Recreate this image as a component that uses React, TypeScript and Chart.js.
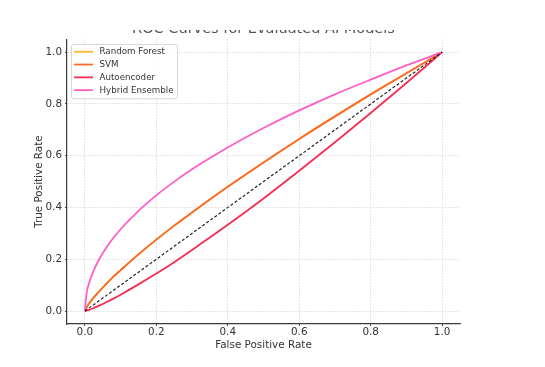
import React, { useEffect, useRef } from 'react';
import { Chart, registerables } from 'chart.js';

Chart.register(...registerables);

const chartTitle = 'ROC Curves for Evaluated AI Models';
const xAxisLabel = 'False Positive Rate';
const yAxisLabel = 'True Positive Rate';

const fprPoints = [0, 0.005, 0.01, 0.02, 0.04, 0.06, 0.08, 0.1, 0.15, 0.2, 0.25, 0.3, 0.4, 0.5, 0.6, 0.7, 0.8, 0.9, 1.0];
const randomForestTpr = [0, 0.014, 0.025, 0.044, 0.076, 0.105, 0.133, 0.158, 0.219, 0.276, 0.33, 0.381, 0.48, 0.574, 0.665, 0.752, 0.837, 0.919, 1.0];
const svmTpr = [0, 0.014, 0.025, 0.044, 0.076, 0.105, 0.133, 0.158, 0.219, 0.276, 0.33, 0.381, 0.48, 0.574, 0.665, 0.752, 0.837, 0.919, 1.0];
const autoencoderTpr = [0, 0.002, 0.004, 0.009, 0.021, 0.034, 0.048, 0.063, 0.103, 0.145, 0.189, 0.236, 0.333, 0.435, 0.542, 0.652, 0.765, 0.881, 1.0];
const hybridTpr = [0, 0.071, 0.1, 0.141, 0.2, 0.245, 0.283, 0.316, 0.387, 0.447, 0.5, 0.548, 0.632, 0.707, 0.775, 0.837, 0.894, 0.949, 1.0];
const chanceX = [0, 1];
const chanceY = [0, 1];
const axisTicks = [0, 0.2, 0.4, 0.6, 0.8, 1.0];

const seriesNames = ['Random Forest', 'SVM', 'Autoencoder', 'Hybrid Ensemble'];
const seriesColors = ['#ffb52e', '#fb6a2c', '#f72d55', '#ff5ec6'];
const seriesValues = [randomForestTpr, svmTpr, autoencoderTpr, hybridTpr];

const FONT = '"DejaVu Sans", sans-serif';
const TEXT = '#333333';

const overlayPlugin = {
  id: 'overlay',
  afterDraw(chart: any) {
    const { ctx, chartArea } = chart;
    ctx.save();
    // title: only its lower edge falls inside the canvas, as in the cropped reference
    ctx.font = `14.5px ${FONT}`;
    ctx.fillStyle = '#555555';
    ctx.textAlign = 'center';
    ctx.textBaseline = 'alphabetic';
    ctx.fillText(chartTitle, (chartArea.left + chartArea.right) / 2, 2.6);

    const bx = chartArea.left + 4;
    const by = chartArea.top + 4.7;
    const bw = 106;
    const bh = 54.3;
    ctx.beginPath();
    ctx.roundRect(bx + 0.5, by + 0.5, bw, bh, 2.5);
    ctx.fillStyle = 'rgba(255,255,255,0.85)';
    ctx.fill();
    ctx.strokeStyle = '#d6d6d6';
    ctx.lineWidth = 1;
    ctx.stroke();
    ctx.font = `8.7px ${FONT}`;
    ctx.textAlign = 'left';
    ctx.textBaseline = 'middle';
    seriesNames.forEach((name, i) => {
      const y = by + 7.8 + i * 12.8;
      ctx.beginPath();
      ctx.moveTo(bx + 3, y);
      ctx.lineTo(bx + 22, y);
      ctx.strokeStyle = seriesColors[i];
      ctx.lineWidth = 1.8;
      ctx.stroke();
      ctx.fillStyle = TEXT;
      ctx.fillText(name, bx + 28.5, y + 0.5);
    });
    ctx.restore();
  },
};

function axis(title: string, isX: boolean) {
  return {
    type: 'linear' as const,
    min: -0.05,
    max: 1.05,
    afterBuildTicks: (scale: any) => {
      scale.ticks = axisTicks.map((v) => ({ value: v }));
    },
    afterFit: (scale: any) => {
      if (isX) scale.height = 43;
      else scale.width = 67;
    },
    ticks: {
      includeBounds: false,
      autoSkip: false,
      maxRotation: 0,
      padding: isX ? 0 : 3,
      color: TEXT,
      font: { family: FONT, size: 10.4 },
      callback: (v: any) => Number(v).toFixed(1),
    },
    grid: {
      color: '#d4d4d4',
      lineWidth: 0.8,
      tickLength: 2,
      tickColor: '#444',
      tickWidth: 1,
      tickBorderDash: [],
    },
    border: {
      display: true,
      color: '#3a3a3a',
      width: 1.2,
      dash: [1.5, 1.5],
    },
    title: {
      display: true,
      text: title,
      color: TEXT,
      font: { family: FONT, size: 10.4 },
      padding: isX ? { top: 0, bottom: 15 } : { top: 33, bottom: 0 },
    },
  };
}

export default function App() {
  const canvasRef = useRef<HTMLCanvasElement | null>(null);

  useEffect(() => {
    if (!canvasRef.current) return;
    const datasets: any[] = seriesNames.map((name, i) => ({
      label: name,
      data: fprPoints.map((x, k) => ({ x, y: seriesValues[i][k] })),
      borderColor: seriesColors[i],
      backgroundColor: seriesColors[i],
      borderWidth: 1.8,
      pointRadius: 0,
      cubicInterpolationMode: 'monotone',
      fill: false,
      order: 4 - i,
    }));
    datasets.push({
      label: 'Chance',
      data: chanceX.map((x, k) => ({ x, y: chanceY[k] })),
      borderColor: '#222222',
      borderWidth: 1.2,
      borderDash: [3, 2],
      pointRadius: 0,
      fill: false,
      order: 0,
    });
    const chart = new Chart(canvasRef.current, {
      type: 'line',
      data: { datasets },
      options: {
        animation: false,
        responsive: false,
        devicePixelRatio: 1,
        layout: { padding: { top: 4.8, right: 85, bottom: 0, left: 0 } },
        plugins: {
          legend: { display: false },
          tooltip: { enabled: false },
          title: { display: false },
        },
        scales: {
          x: axis(xAxisLabel, true),
          y: axis(yAxisLabel, false),
        },
      },
      plugins: [overlayPlugin],
    });
    return () => chart.destroy();
  }, []);

  return (
    <div style={{ position: 'absolute', left: 0, top: 30, width: 545, height: 337, background: '#fff' }}>
      <canvas ref={canvasRef} width={545} height={337} style={{ display: 'block' }} />
    </div>
  );
}
